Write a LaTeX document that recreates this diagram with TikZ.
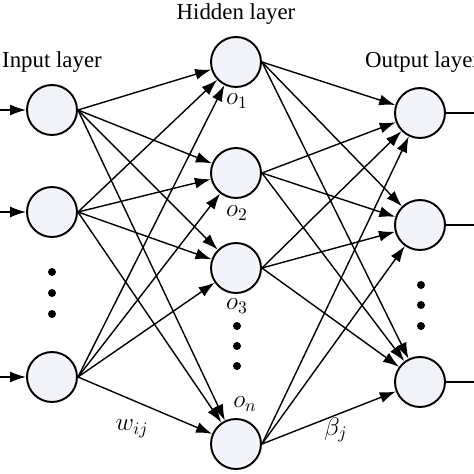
\documentclass[tikz,border=0pt]{standalone}
\usepackage{fontspec}
\setmainfont{Liberation Serif}
\usetikzlibrary{positioning}
\usetikzlibrary{arrows.meta}
\definecolor{nodefill}{RGB}{242,244,250}
\tikzset{
  neuron/.style={circle,draw,line width=1.1pt,fill=nodefill,minimum size=1cm,inner sep=0pt},
  link/.style={line width=0.8pt,-{Latex[length=3.2mm,width=2.2mm]}},
  dot/.style={circle,fill=black,inner sep=0pt,minimum size=0.16cm},
  title/.style={font=\fontsize{13}{15}\selectfont},
  mark label/.style={font=\Large,inner sep=1pt}
}
\begin{document}
\begin{tikzpicture}[x=0.02cm,y=-0.02cm]
            \useasboundingbox (0,0) rectangle (474,474);
            % input layer
            \node[neuron] (I1) at (52,110) {};
            \node[neuron] (I2) at (52,212) {};
            \node[neuron] (I4) at (52,377) {};
            \coordinate (X1) at (0,110);
            \coordinate (X2) at (0,212);
            \coordinate (X4) at (0,377);
            \foreach \d/\y in {1/272,2/293,3/314} \node[dot] (ID\d) at (52,\y) {};
            % hidden layer
            \node[neuron] (H1) at (236,62) {};
            \node[neuron] (H2) at (236,173) {};
            \node[neuron] (H3) at (236,268) {};
            \node[neuron] (Hn) at (236,444) {};
            \node[mark label] (L1) at (237,101) {$o_1$};
            \node[mark label] (L2) at (237,213) {$o_2$};
            \node[mark label] (L3) at (237,306) {$o_3$};
            \node[mark label] (Ln) at (245,404) {$o_n$};
            \foreach \d/\y in {1/326,2/346,3/366} \node[dot] (HD\d) at (237,\y) {};
            % output layer
            \node[neuron] (O1) at (420,113) {};
            \node[neuron] (O2) at (420,225) {};
            \node[neuron] (O3) at (420,382) {};
            \coordinate (Y1) at (474,113);
            \coordinate (Y2) at (474,225);
            \coordinate (Y3) at (474,382);
            \foreach \d/\y in {1/285,2/305,3/326} \node[dot] (OD\d) at (421,\y) {};
            % titles
            \node[title] (tin) at (52,62) {Input layer};
            \node[title] (thid) at (236,14) {Hidden layer};
            \node[title,anchor=west] (tout) at (359,62) {Output layer};
            % connections
            \foreach \i in {1,2,4} \draw[link] (X\i) -- (I\i);
            \foreach \i in {1,2,4}
              \foreach \h in {1,2,3,n}
                \draw[link] (I\i.east) -- (H\h);
            \foreach \h in {1,2,3,n}
              \foreach \o in {1,2,3}
                \draw[link] (H\h.east) -- (O\o);
            \foreach \o in {1,2,3} \draw[line width=0.8pt] (O\o) -- (Y\o);
            \node[mark label] (w) at (132,429) {$w_{ij}$};
            \node[mark label] (b) at (336,430) {$\beta_j$};
        \end{tikzpicture}
\end{document}
